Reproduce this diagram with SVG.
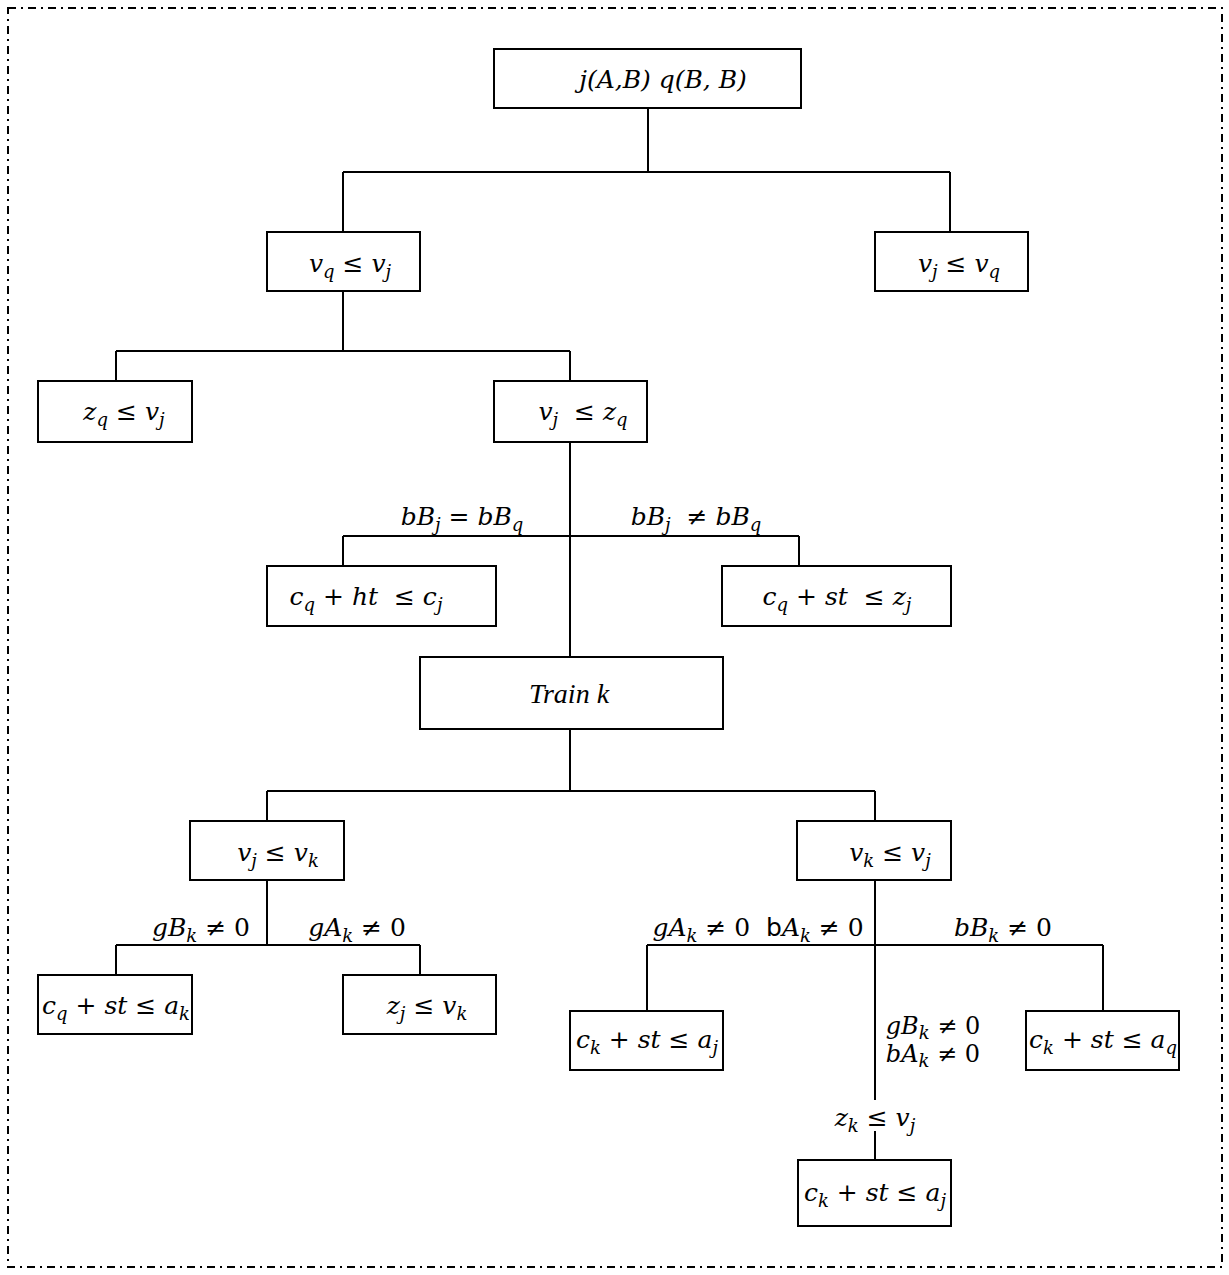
<svg xmlns="http://www.w3.org/2000/svg" width="1229" height="1275" viewBox="0 0 1229 1275">
<style>
  .frame { fill: none; stroke: #000; stroke-width: 2; stroke-dasharray: 8 5 2 5; }
  .box { fill: #fff; stroke: #000; stroke-width: 2; }
  .wire { fill: none; stroke: #000; stroke-width: 2; }
  text { font-family: "DejaVu Serif", "Liberation Serif", serif; font-style: italic; font-size: 25px; fill: #000; text-anchor: middle; }
  .s { font-size: 18px; }
  .up { font-style: normal; }
  .sans { font-family: "DejaVu Sans", sans-serif; font-style: normal; }
  .pair { font-size: 24px; }
</style>
<rect width="1229" height="1275" fill="#fff"/>
<rect class="frame" x="8" y="8" width="1214" height="1259"/>

<g id="connectors">
  <path class="wire" d="M648 108 V172 M343 172 H950 M343 172 V232 M950 172 V232"/>
  <path class="wire" d="M343 291 V351 M116 351 H570 M116 351 V381 M570 351 V381"/>
  <path class="wire" d="M570 442 V657 M343 536 H799 M343 536 V566 M799 536 V566"/>
  <path class="wire" d="M570 729 V791 M267 791 H875 M267 791 V821 M875 791 V821"/>
  <path class="wire" d="M267 880 V945 M116 945 H420 M116 945 V975 M420 945 V975"/>
  <path class="wire" d="M875 880 V1100 M647 945 H1103 M647 945 V1011 M1103 945 V1011 M875 1131 V1160"/>
</g>

<g id="root">
  <rect class="box" x="494" y="49" width="307" height="59"/>
  <text x="663" y="88">j(A,B) q(B, B)</text>
</g>
<g id="vq-le-vj">
  <rect class="box" x="267" y="232" width="153" height="59"/>
  <text x="350" y="272">v<tspan class="s" dy="6">q</tspan><tspan dy="-6" class="up"> ≤ </tspan>v<tspan class="s" dy="6">j</tspan></text>
</g>
<g id="vj-le-vq">
  <rect class="box" x="875" y="232" width="153" height="59"/>
  <text x="959" y="272">v<tspan class="s" dy="6">j</tspan><tspan dy="-6" class="up"> ≤ </tspan>v<tspan class="s" dy="6">q</tspan></text>
</g>
<g id="zq-le-vj">
  <rect class="box" x="38" y="381" width="154" height="61"/>
  <text x="124" y="420">z<tspan class="s" dy="6">q</tspan><tspan dy="-6" class="up"> ≤ </tspan>v<tspan class="s" dy="6">j</tspan></text>
</g>
<g id="vj-le-zq">
  <rect class="box" x="494" y="381" width="153" height="61"/>
  <text x="583" y="420">v<tspan class="s" dy="6">j</tspan><tspan dy="-6" class="up">&#160; ≤ </tspan>z<tspan class="s" dy="6">q</tspan></text>
</g>
<g id="edge-labels-1">
  <text x="462" y="525">bB<tspan class="s" dy="6">j</tspan><tspan dy="-6" class="up"> = </tspan>bB<tspan class="s" dy="6">q</tspan></text>
  <text x="696" y="525">bB<tspan class="s" dy="6">j</tspan><tspan dy="-6" class="up">&#160; ≠ </tspan>bB<tspan class="s" dy="6">q</tspan></text>
</g>
<g id="cq-ht-le-cj">
  <rect class="box" x="267" y="566" width="229" height="60"/>
  <text x="366" y="605">c<tspan class="s" dy="6">q</tspan><tspan dy="-6" class="up"> + </tspan>ht<tspan class="up">&#160; ≤ </tspan>c<tspan class="s" dy="6">j</tspan></text>
</g>
<g id="cq-st-le-zj">
  <rect class="box" x="722" y="566" width="229" height="60"/>
  <text x="837" y="605">c<tspan class="s" dy="6">q</tspan><tspan dy="-6" class="up"> + </tspan>st<tspan class="up">&#160; ≤ </tspan>z<tspan class="s" dy="6">j</tspan></text>
</g>
<g id="train-k">
  <rect class="box" x="420" y="657" width="303" height="72"/>
  <text x="569" y="703" style="font-family: 'Liberation Serif', 'Times New Roman', serif; font-size: 28px;">Train k</text>
</g>
<g id="vj-le-vk">
  <rect class="box" x="190" y="821" width="154" height="59"/>
  <text x="278" y="861">v<tspan class="s" dy="6">j</tspan><tspan dy="-6" class="up"> ≤ </tspan>v<tspan class="s" dy="6">k</tspan></text>
</g>
<g id="vk-le-vj">
  <rect class="box" x="797" y="821" width="154" height="59"/>
  <text x="890" y="861">v<tspan class="s" dy="6">k</tspan><tspan dy="-6" class="up"> ≤ </tspan>v<tspan class="s" dy="6">j</tspan></text>
</g>
<g id="edge-labels-2">
  <text x="201" y="936">gB<tspan class="s" dy="6">k</tspan><tspan dy="-6" class="up"> ≠ 0</tspan></text>
  <text x="357" y="936">gA<tspan class="s" dy="6">k</tspan><tspan dy="-6" class="up"> ≠ 0</tspan></text>
  <text x="758" y="936">gA<tspan class="s" dy="6">k</tspan><tspan dy="-6" class="up"> ≠ 0&#160; </tspan><tspan class="sans">b</tspan>A<tspan class="s" dy="6">k</tspan><tspan dy="-6" class="up"> ≠ 0</tspan></text>
  <text x="1003" y="936">bB<tspan class="s" dy="6">k</tspan><tspan dy="-6" class="up"> ≠ 0</tspan></text>
  <text class="pair" x="933" y="1034">gB<tspan class="s" dy="5">k</tspan><tspan dy="-5" class="up"> ≠ 0</tspan><tspan x="933" dy="28">bA</tspan><tspan class="s" dy="5">k</tspan><tspan dy="-5" class="up"> ≠ 0</tspan></text>
  <text x="875" y="1126">z<tspan class="s" dy="6">k</tspan><tspan dy="-6" class="up"> ≤ </tspan>v<tspan class="s" dy="6">j</tspan></text>
</g>
<g id="cq-st-le-ak">
  <rect class="box" x="38" y="975" width="154" height="59"/>
  <text x="116" y="1014">c<tspan class="s" dy="6">q</tspan><tspan dy="-6" class="up"> + </tspan>st<tspan class="up"> ≤ </tspan>a<tspan class="s" dy="6">k</tspan></text>
</g>
<g id="zj-le-vk">
  <rect class="box" x="343" y="975" width="153" height="59"/>
  <text x="427" y="1014">z<tspan class="s" dy="6">j</tspan><tspan dy="-6" class="up"> ≤ </tspan>v<tspan class="s" dy="6">k</tspan></text>
</g>
<g id="ck-st-le-aj">
  <rect class="box" x="570" y="1011" width="153" height="59"/>
  <text x="647" y="1048">c<tspan class="s" dy="6">k</tspan><tspan dy="-6" class="up"> + </tspan>st<tspan class="up"> ≤ </tspan>a<tspan class="s" dy="6">j</tspan></text>
</g>
<g id="ck-st-le-aq">
  <rect class="box" x="1026" y="1011" width="153" height="59"/>
  <text x="1103" y="1048">c<tspan class="s" dy="6">k</tspan><tspan dy="-6" class="up"> + </tspan>st<tspan class="up"> ≤ </tspan>a<tspan class="s" dy="6">q</tspan></text>
</g>
<g id="ck-st-le-aj-2">
  <rect class="box" x="798" y="1160" width="153" height="66"/>
  <text x="875" y="1201">c<tspan class="s" dy="6">k</tspan><tspan dy="-6" class="up"> + </tspan>st<tspan class="up"> ≤ </tspan>a<tspan class="s" dy="6">j</tspan></text>
</g>
</svg>
